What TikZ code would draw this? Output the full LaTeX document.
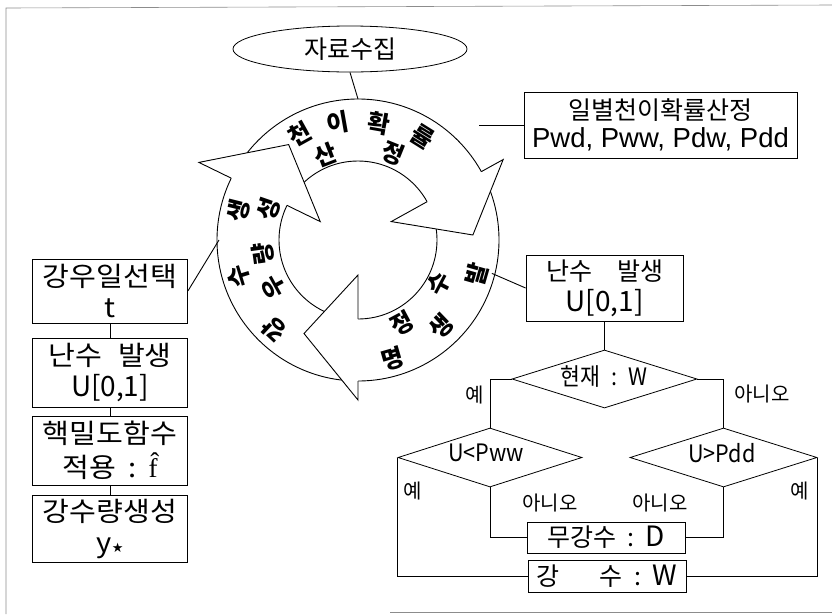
\documentclass[tikz,border=0pt]{standalone}
\usepackage{fontspec}
\setmainfont{Liberation Sans}
\newfontfamily\kr{Noto Sans CJK KR}
\newfontfamily\krw[FakeStretch=1.08]{Noto Sans CJK KR}
\newfontfamily\krn[FakeStretch=0.9]{Noto Sans CJK KR}
\newfontfamily\serf{Liberation Serif}
\newfontfamily\sym{DejaVu Sans}
\usetikzlibrary{shapes.geometric,calc}
\tikzset{
  frameline/.style={draw=black!45, line width=0.6pt},
  ln/.style={draw=black, line width=0.9pt},
  tbox/.style={draw=black, line width=0.8pt, inner sep=0pt, align=center,
    font=\kr\fontsize{25}{31}\selectfont},
  lbox/.style={tbox, minimum width=155, font=\krw\fontsize{27}{31}\selectfont},
  dia/.style={draw=black, line width=0.8pt, diamond, inner sep=0pt},
  dtext/.style={font=\krn\fontsize{24}{28}\selectfont, inner sep=0pt},
  lab/.style={font=\kr\fontsize{20}{22}\selectfont, inner sep=0pt},
  ring/.style={draw=black, line width=0.9pt},
  rt/.style={font=\kr\bfseries\fontsize{24}{26}\selectfont, inner sep=0pt},
}
\newcommand{\ksp}{\hspace{0.45em}}
\newcommand{\lat}[1]{{\kr\fontsize{28}{31}\selectfont #1}}
\begin{document}
\begin{tikzpicture}[x=1pt,y=-1pt]
\useasboundingbox (0,0) rectangle (832,614);
% frame
\draw[frameline] (6,614) -- (6,8) -- (832,5);
\draw[frameline] (390,612) -- (832,612);

% centre of ring
\coordinate (C) at (358,240);
\draw[ring] (C) circle (141);
\draw[ring] (C) circle (79);
% arrow heads: base angle, tip angle, inner barb, outer barb, tip radius
\foreach \b/\t/\ri/\ro/\rt in {-29/-2.5/38/166/115, 90/120/35/160/108, 206/234/42/177/118}{
  \fill[white] ([shift={(\b:\ri)}]C) -- ([shift={(\t:\rt)}]C) -- ([shift={(\b:\ro)}]C) -- cycle;
  \draw[ring, line join=miter] ([shift={(\b:79)}]C) -- ([shift={(\b:\ri)}]C) -- ([shift={(\t:\rt)}]C) -- ([shift={(\b:\ro)}]C) -- ([shift={(\b:141)}]C);
}
% ring text (top)
\foreach \a/\r/\c in {-119/121/천, -100/119/이, -80/118/확, -58/122/률, -111/91/산, -68/93/정}{
  \node[rt, rotate=-\a-90] at ([shift={(\a:\r)}]C) {\c};
}
% ring text (lower right)
\foreach \a/\r/\c in {16/124/발, 46/120/생, 74/124/명, 28/92/수, 62/94/정}{
  \node[rt, rotate=-\a+90] at ([shift={(\a:\r)}]C) {\c};
}
% ring text (left)
\foreach \a/\r/\c in {133/123/강, 163/124/수, 194/123/생, 151/96/우, 172/96/량, 199/95/성}{
  \node[rt, rotate=-\a-90] at ([shift={(\a:\r)}]C) {\c};
}

% top ellipse
\node[ellipse, draw, line width=0.8pt, minimum width=234, minimum height=46, inner sep=0pt,
  font=\kr\fontsize{25}{28}\selectfont] (src) at (350,49) {자료수집};
\draw[ln] (src.south) -- ($(C)+(0,-141)$) coordinate (rtop);

% top-right box
\node[tbox, minimum width=273, minimum height=66] (prob) at (660.5,125)
  {일별천이확률산정\\[-3pt]{\rmfamily\fontsize{27.5}{30}\selectfont Pwd, Pww, Pdw, Pdd}};
\coordinate (rp) at ($(C)+(-30:140)$);
\draw[ln] (rp |- prob.west) -- (prob.west);

% left column
\node[lbox, minimum height=64] (sel) at (110,291) {강우일선택\\t};
\node[lbox, minimum height=69] (rndL) at (110,372.5) {난수\hspace{0.6em}발생\\\lat{U[0,1]}};
\node[lbox, minimum height=69] (kde) at (110,450.5) {핵밀도함수\\[3pt]적용\ksp :\ksp{\serf\fontsize{27}{27}\selectfont f̂}};
\node[lbox, minimum height=67] (gen) at (110,528.5) {강수량생성\\y{\sym\fontsize{13}{13}\selectfont ★}};
\draw[ln] (sel.south) -- (rndL.north);
\draw[ln] (rndL.south) -- (kde.north);
\draw[ln] (kde.south) -- (gen.north);
\draw[ln] (sel.east) -- ($(C)+(180:139)$);

% right flow
\node[tbox, minimum width=157, minimum height=66] (rndR) at (604.5,288) {난수\hspace{1em}발생\\\lat{U[0,1]}};
\draw[ln] ($(C)+(14:138)$ |- rndR.west) -- (rndR.west);
\node[dia, minimum width=185, minimum height=58] (d1) at (604.5,379) {};
\node[dtext] at (604,377) {현재\ksp :\ksp W};
\node[dia, minimum width=184, minimum height=59] (d2) at (490,457.5) {};
\node[dtext] at (486,453) {U<Pww};
\node[dia, minimum width=187, minimum height=59] (d3) at (723.5,457.5) {};
\node[dtext] at (722,453) {U>Pdd};
\node[tbox, minimum width=158, minimum height=31] (dry) at (606,537.5) {무강수\ksp :\ksp \lat{D}};
\node[tbox, minimum width=158, minimum height=32] (wet) at (607,576) {강\hspace{1.6em}수\ksp :\ksp \lat{W}};

\draw[ln] (rndR.south) -- (d1.north);
\draw[ln] (d1.west) -| (d2.north);
\draw[ln] (d1.east) -| (d3.north);
\draw[ln] (d2.west) |- (wet.west);
\draw[ln] (d2.south) |- (dry.west);
\draw[ln] (d3.south) |- (dry.east);
\draw[ln] (d3.east) |- (wet.east);

\node[lab] at (475,395) {예};
\node[lab] at (762,394) {아니오};
\node[lab] at (413,491) {예};
\node[lab] at (550,503) {아니오};
\node[lab] at (660,503) {아니오};
\node[lab] at (800,491) {예};
\end{tikzpicture}
\end{document}
